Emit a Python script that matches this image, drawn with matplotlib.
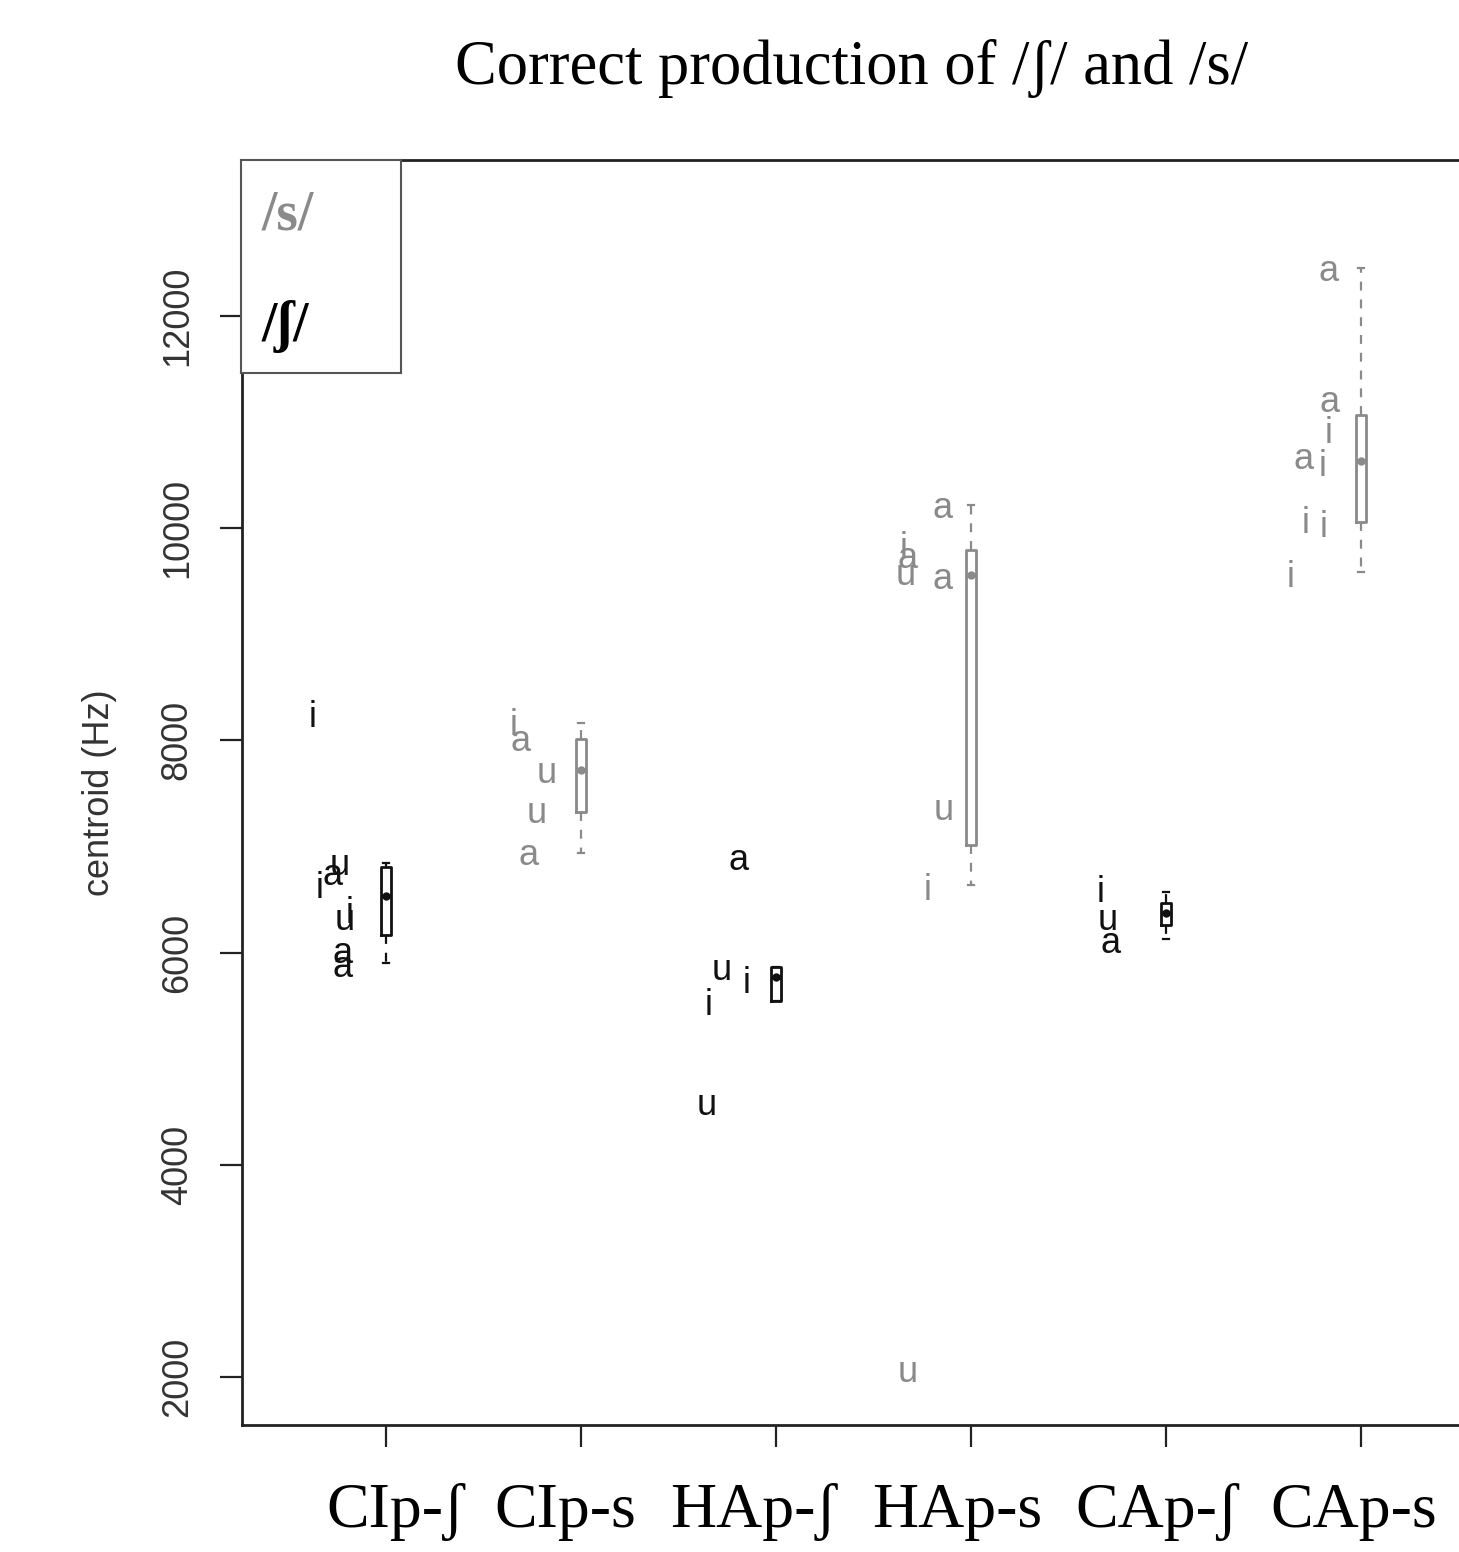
import matplotlib

matplotlib.use("Agg")
import matplotlib.pyplot as plt
from matplotlib.transforms import ScaledTranslation

# categories (position 1..6) and which sound each belongs to
CATEGORIES = ["CIp-ʃ", "CIp-s", "HAp-ʃ", "HAp-s", "CAp-ʃ", "CAp-s"]
SOUND = ["sh", "s", "sh", "s", "sh", "s"]

# individual tokens: vowel label, horizontal jitter (left of box), centroid Hz
CIP_SH_LAB = ["i", "i", "a", "u", "i", "u", "a", "a"]
CIP_SH_OFF = [-0.374, -0.338, -0.272, -0.236, -0.185, -0.210, -0.221, -0.221]
CIP_SH_HZ = [8220, 6609, 6731, 6826, 6373, 6307, 5996, 5864]

CIP_S_LAB = ["i", "a", "u", "u", "a"]
CIP_S_OFF = [-0.344, -0.308, -0.174, -0.226, -0.267]
CIP_S_HZ = [8145, 7994, 7693, 7316, 6920]

HAP_SH_LAB = ["a", "u", "i", "i", "u"]
HAP_SH_OFF = [-0.190, -0.277, -0.149, -0.344, -0.354]
HAP_SH_HZ = [6873, 5836, 5713, 5506, 4564]

HAP_S_LAB = ["a", "i", "a", "u", "a", "u", "i", "u"]
HAP_S_OFF = [-0.144, -0.344, -0.323, -0.333, -0.144, -0.138, -0.221, -0.323]
HAP_S_HZ = [10190, 9813, 9719, 9559, 9512, 7344, 6590, 2047]

CAP_SH_LAB = ["i", "u", "a"]
CAP_SH_OFF = [-0.338, -0.297, -0.287]
CAP_SH_HZ = [6571, 6307, 6090]

CAP_S_LAB = ["a", "a", "i", "a", "i", "i", "i", "i"]
CAP_S_OFF = [-0.169, -0.159, -0.169, -0.297, -0.195, -0.287, -0.190, -0.364]
CAP_S_HZ = [12415, 11189, 10897, 10643, 10577, 10049, 10002, 9540]

# box summaries per category: whisker low, q1, median, q3, whisker high
WHISLO = [5902, 6939, 5544, 6637, 6128, 9587]
Q1 = [6166, 7325, 5544, 7014, 6260, 10058]
MED = [6533, 7721, 5770, 9559, 6373, 10633]
Q3 = [6807, 8013, 5864, 9794, 6467, 11067]
WHISHI = [6844, 8164, 5864, 10219, 6571, 12453]

Y_TICKS = [2000, 4000, 6000, 8000, 10000, 12000]

GREY = "#8a8a8a"
DARK = "#111111"
SERIF = ["Liberation Serif", "DejaVu Serif"]
SANS = ["Liberation Sans", "DejaVu Sans"]

tokens = [
    (CIP_SH_LAB, CIP_SH_OFF, CIP_SH_HZ),
    (CIP_S_LAB, CIP_S_OFF, CIP_S_HZ),
    (HAP_SH_LAB, HAP_SH_OFF, HAP_SH_HZ),
    (HAP_S_LAB, HAP_S_OFF, HAP_S_HZ),
    (CAP_SH_LAB, CAP_SH_OFF, CAP_SH_HZ),
    (CAP_S_LAB, CAP_S_OFF, CAP_S_HZ),
]

fig = plt.figure(figsize=(14.59, 15.52), dpi=100)
ax = fig.add_axes([0.1659, 0.0818, 0.8485, 0.8151])

positions = list(range(1, len(CATEGORIES) + 1))

for i, (labs, offs, hz) in enumerate(tokens):
    pos = positions[i]
    col = DARK if SOUND[i] == "sh" else GREY
    for lab, off, v in zip(labs, offs, hz):
        ax.text(pos + off, v, lab, color=col, fontsize=26, family=SANS,
                ha="center", va="center")

    stats = [{
        "whislo": WHISLO[i], "q1": Q1[i], "med": MED[i],
        "q3": Q3[i], "whishi": WHISHI[i], "fliers": [],
    }]
    ax.bxp(stats, positions=[pos], widths=0.05, capwidths=0.03,
           showfliers=False, manage_ticks=False,
           boxprops=dict(color=col, linewidth=2),
           whiskerprops=dict(color=col, linewidth=1.6, linestyle=(0, (4, 4))),
           capprops=dict(color=col, linewidth=1.6),
           medianprops=dict(color=col, linewidth=2.5))
    ax.plot([pos], [MED[i]], marker="o", ms=5, color=col, zorder=4)

ax.set_xlim(0.262, 6.61)
ax.set_ylim(1548, 13470)

ax.set_xticks(positions)
ax.set_xticklabels(CATEGORIES, fontsize=46, family=SERIF)
ax.set_yticks(Y_TICKS)
ax.set_yticklabels([str(t) for t in Y_TICKS], rotation=90, va="center",
                   fontsize=26, family=SANS, color="#333333")
ax.tick_params(axis="x", length=16, width=1.6, pad=26, colors="#222222",
               labelcolor="black")
ax.tick_params(axis="y", length=16, width=1.6, pad=18, colors="#222222",
               labelcolor="#333333")

# the category names in the reference sit a little off their ticks
label_shift_px = [10, -16, -23, -14, -9, -7]
for lbl, dx in zip(ax.get_xticklabels(), label_shift_px):
    lbl.set_transform(lbl.get_transform() +
                      ScaledTranslation(dx / 100, 0, fig.dpi_scale_trans))

for side in ["left", "bottom", "top"]:
    ax.spines[side].set_linewidth(2)
    ax.spines[side].set_color("#222222")
ax.spines["right"].set_visible(False)

fig.text(100 / 1459, 1 - 793 / 1552, "centroid (Hz)", rotation=90,
         ha="center", va="center", fontsize=26, family=SANS, color="#333333")

fig.text(852 / 1459, 1 - 68 / 1552, "Correct production of /ʃ/ and /s/",
         ha="center", va="center", fontsize=45, family=SERIF)

# legend box in the upper left corner of the plot
leg_ax = fig.add_axes([241 / 1459, 1 - 373 / 1552, 160 / 1459, 213 / 1552])
leg_ax.set_xticks([])
leg_ax.set_yticks([])
leg_ax.set_facecolor("white")
for sp in leg_ax.spines.values():
    sp.set_color("#555555")
    sp.set_linewidth(1.5)
leg_ax.text(0.13, 0.74, "/s/", color=GREY, fontsize=40, fontweight="bold",
            family=SERIF, transform=leg_ax.transAxes, va="center")
leg_ax.text(0.13, 0.22, "/ʃ/", color="black", fontsize=40, fontweight="bold",
            family=SERIF, transform=leg_ax.transAxes, va="center")

fig.savefig("out.png", dpi=100)
